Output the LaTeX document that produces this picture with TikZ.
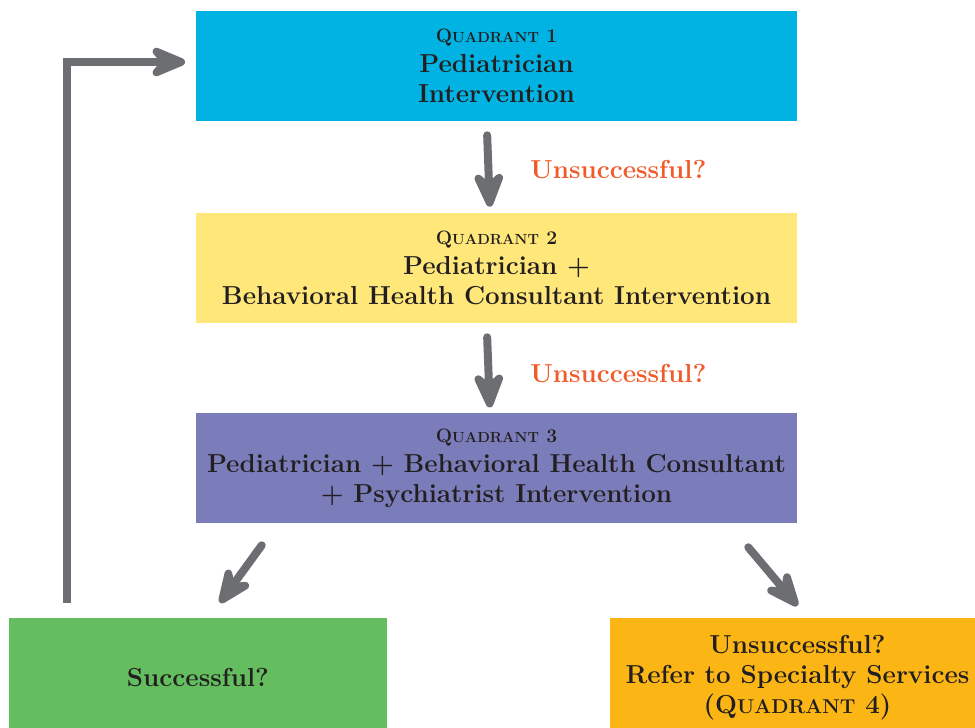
\documentclass[tikz,border=0pt]{standalone}
\usepackage{fontspec}
\usetikzlibrary{arrows.meta}

\definecolor{qone}{HTML}{00B3E3}
\definecolor{qtwo}{HTML}{FFE77A}
\definecolor{qthree}{HTML}{7B7DBA}
\definecolor{qok}{HTML}{64BE5F}
\definecolor{qfour}{HTML}{FBB615}
\definecolor{arrowgray}{HTML}{6D6E71}
\definecolor{warnorange}{HTML}{F15A29}
\definecolor{inkdark}{HTML}{231F20}

\newcommand{\quadlabel}[1]{{\fontsize{14.5}{17}\selectfont Q\fontsize{11}{17}\selectfont UADRANT\fontsize{14.5}{17}\selectfont\ #1}}
\newcommand{\quadbig}[1]{{Q\fontsize{15}{23}\selectfont UADRANT\fontsize{19.5}{23}\selectfont\ #1}}

\tikzset{
    quadbox/.style={rectangle, inner sep=0pt, align=center, text=inkdark,
        font=\bfseries\fontsize{19.5}{22.5}\selectfont},
    flow/.style={draw=arrowgray, line width=6pt, line cap=round, line join=round,
        -{Stealth[length=36pt, width=30pt, inset=13pt, round]}},
    warn/.style={text=warnorange, font=\bfseries\fontsize{19.5}{22.5}\selectfont, inner sep=0pt}
}

\begin{document}
\begin{tikzpicture}[x=0.75pt,y=-0.75pt]
    \useasboundingbox (0,0) rectangle (975,728);
    % quadrants
    \node[quadbox, fill=qone, minimum width=450.75pt, minimum height=82.5pt] (q1) at (496.5,66)
        {\quadlabel{1}\\Pediatrician\\Intervention};
    \node[quadbox, fill=qtwo, minimum width=450.75pt, minimum height=82.5pt] (q2) at (496.5,268)
        {\quadlabel{2}\\Pediatrician +\\Behavioral Health Consultant Intervention};
    \node[quadbox, fill=qthree, minimum width=450.75pt, minimum height=82.5pt] (q3) at (496.5,468)
        {\quadlabel{3}\\Pediatrician + Behavioral Health Consultant\\+ Psychiatrist Intervention};
    \node[quadbox, fill=qok, minimum width=283.5pt, minimum height=90pt] (ok) at (198,678)
        {Successful?};
    \node[quadbox, fill=qfour, minimum width=281.25pt, minimum height=90pt] (q4) at (797.5,678)
        {Unsuccessful?\\Refer to Specialty Services\\(\quadbig{4})};
    % labels
    \node[warn, anchor=west] (fail1) at (530,170) {Unsuccessful?};
    \node[warn, anchor=west] (fail2) at (530,374) {Unsuccessful?};
    % connectors
    \draw[flow] ([xshift=-7pt,yshift=-10.5pt]q1.south) -- ([xshift=-5pt,yshift=4.5pt]q2.north);
    \draw[flow] ([xshift=-7pt,yshift=-10.5pt]q2.south) -- ([xshift=-5pt,yshift=4pt]q3.north);
    \draw[flow] ([xshift=49.5pt,yshift=-16.5pt]q3.south west) -- ([xshift=16.5pt,yshift=11.25pt]ok.north);
    \draw[flow] ([xshift=-36.75pt,yshift=-18pt]q3.south east) -- ([yshift=9pt]q4.north);
    \draw[flow, line cap=butt, line join=miter, shorten >=8pt] ([xshift=44pt,yshift=11.25pt]ok.north west) |- ([yshift=3pt]q1.west);
\end{tikzpicture}
\end{document}
